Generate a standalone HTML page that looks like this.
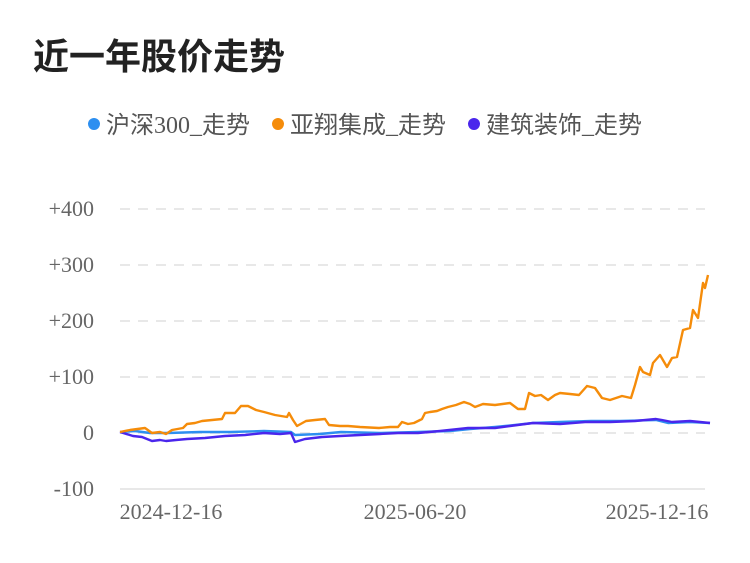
<!DOCTYPE html>
<html><head><meta charset="utf-8"><style>
body{margin:0;background:#fff;width:750px;height:558px;overflow:hidden}
</style></head><body>
<svg width="750" height="558" xmlns="http://www.w3.org/2000/svg">
<text x="33" y="69" font-family="Liberation Sans, Noto Sans CJK SC, sans-serif" font-size="36" font-weight="bold" fill="#222">近一年股价走势</text>
<g font-family="Liberation Serif, Noto Sans CJK SC, sans-serif" font-size="24" fill="#555">
<circle cx="94" cy="124" r="6" fill="#2d8ff0"/><text x="106" y="133">沪深300_走势</text>
<circle cx="278" cy="124" r="6" fill="#f58c0a"/><text x="290" y="133">亚翔集成_走势</text>
<circle cx="474" cy="124" r="6" fill="#4a26ec"/><text x="486" y="133">建筑装饰_走势</text>
</g>
<g stroke="#e8e8e8" stroke-width="2" stroke-dasharray="10,8">
<line x1="120" y1="209" x2="705" y2="209"/><line x1="120" y1="265" x2="705" y2="265"/>
<line x1="120" y1="321" x2="705" y2="321"/><line x1="120" y1="377" x2="705" y2="377"/>
<line x1="120" y1="433" x2="705" y2="433"/>
</g>
<line x1="120" y1="489" x2="705" y2="489" stroke="#e8e8e8" stroke-width="2"/>
<g font-family="Liberation Serif, serif" font-size="22" fill="#666" text-anchor="end">
<text x="94" y="216">+400</text><text x="94" y="272">+300</text><text x="94" y="328">+200</text>
<text x="94" y="384">+100</text><text x="94" y="440">0</text><text x="94" y="496">-100</text>
</g>
<g font-family="Liberation Serif, serif" font-size="22" fill="#666" text-anchor="middle">
<text x="171" y="519">2024-12-16</text><text x="415" y="519">2025-06-20</text><text x="657" y="519">2025-12-16</text>
</g>
<g stroke-width="2.4" stroke-linejoin="round" fill="none">
<polyline stroke="#2d8ff0" points="120,432 135,431 150,433 168,433 200,432 230,432 264,431 291,432 295,435 320,434 341,432 380,433 418,432 450,431 470,429 495,427 515,425 533,423 560,422 591,421 620,421 656,420 668,423 690,422 710,423"/>
<polyline stroke="#4a26ec" points="120,432 133,436 142,437 152,441 160,440 166,441 176,440 187,439 205,438 225,436 245,435 264,433 280,434 291,433 295,442 305,439 322,437 340,436 360,435 380,434 398,433 418,433 440,431 468,428 495,428 510,426 533,423 560,424 585,422 610,422 635,421 656,419 662,420 672,422 690,421 710,423"/>
<polyline stroke="#f58c0a" points="120,432 130,430 145,428 152,433 160,432 166,434 172,430 183,428 187,424 195,423 202,421 212,420 222,419 225,413 235,413 241,406 248,406 256,410 264,412 275,415 287,417 289,413 293,420 297,426 306,421 315,420 325,419 329,425 340,426 348,426 360,427 379,428 390,427 398,427 402,422 408,424 414,423 422,419 425,413 430,412 437,411 442,409 448,407 456,405 464,402 470,404 475,407 483,404 495,405 510,403 518,409 525,409 529,393 535,396 541,395 548,400 555,395 560,393 570,394 579,395 587,386 595,388 602,398 610,400 622,396 631,398 635,385 640,367 643,372 650,375 653,363 660,355 667,367 672,358 677,357 683,330 690,328 693,310 698,318 703,283 705,288 708,275"/>
</g>
</svg>
</body></html>
